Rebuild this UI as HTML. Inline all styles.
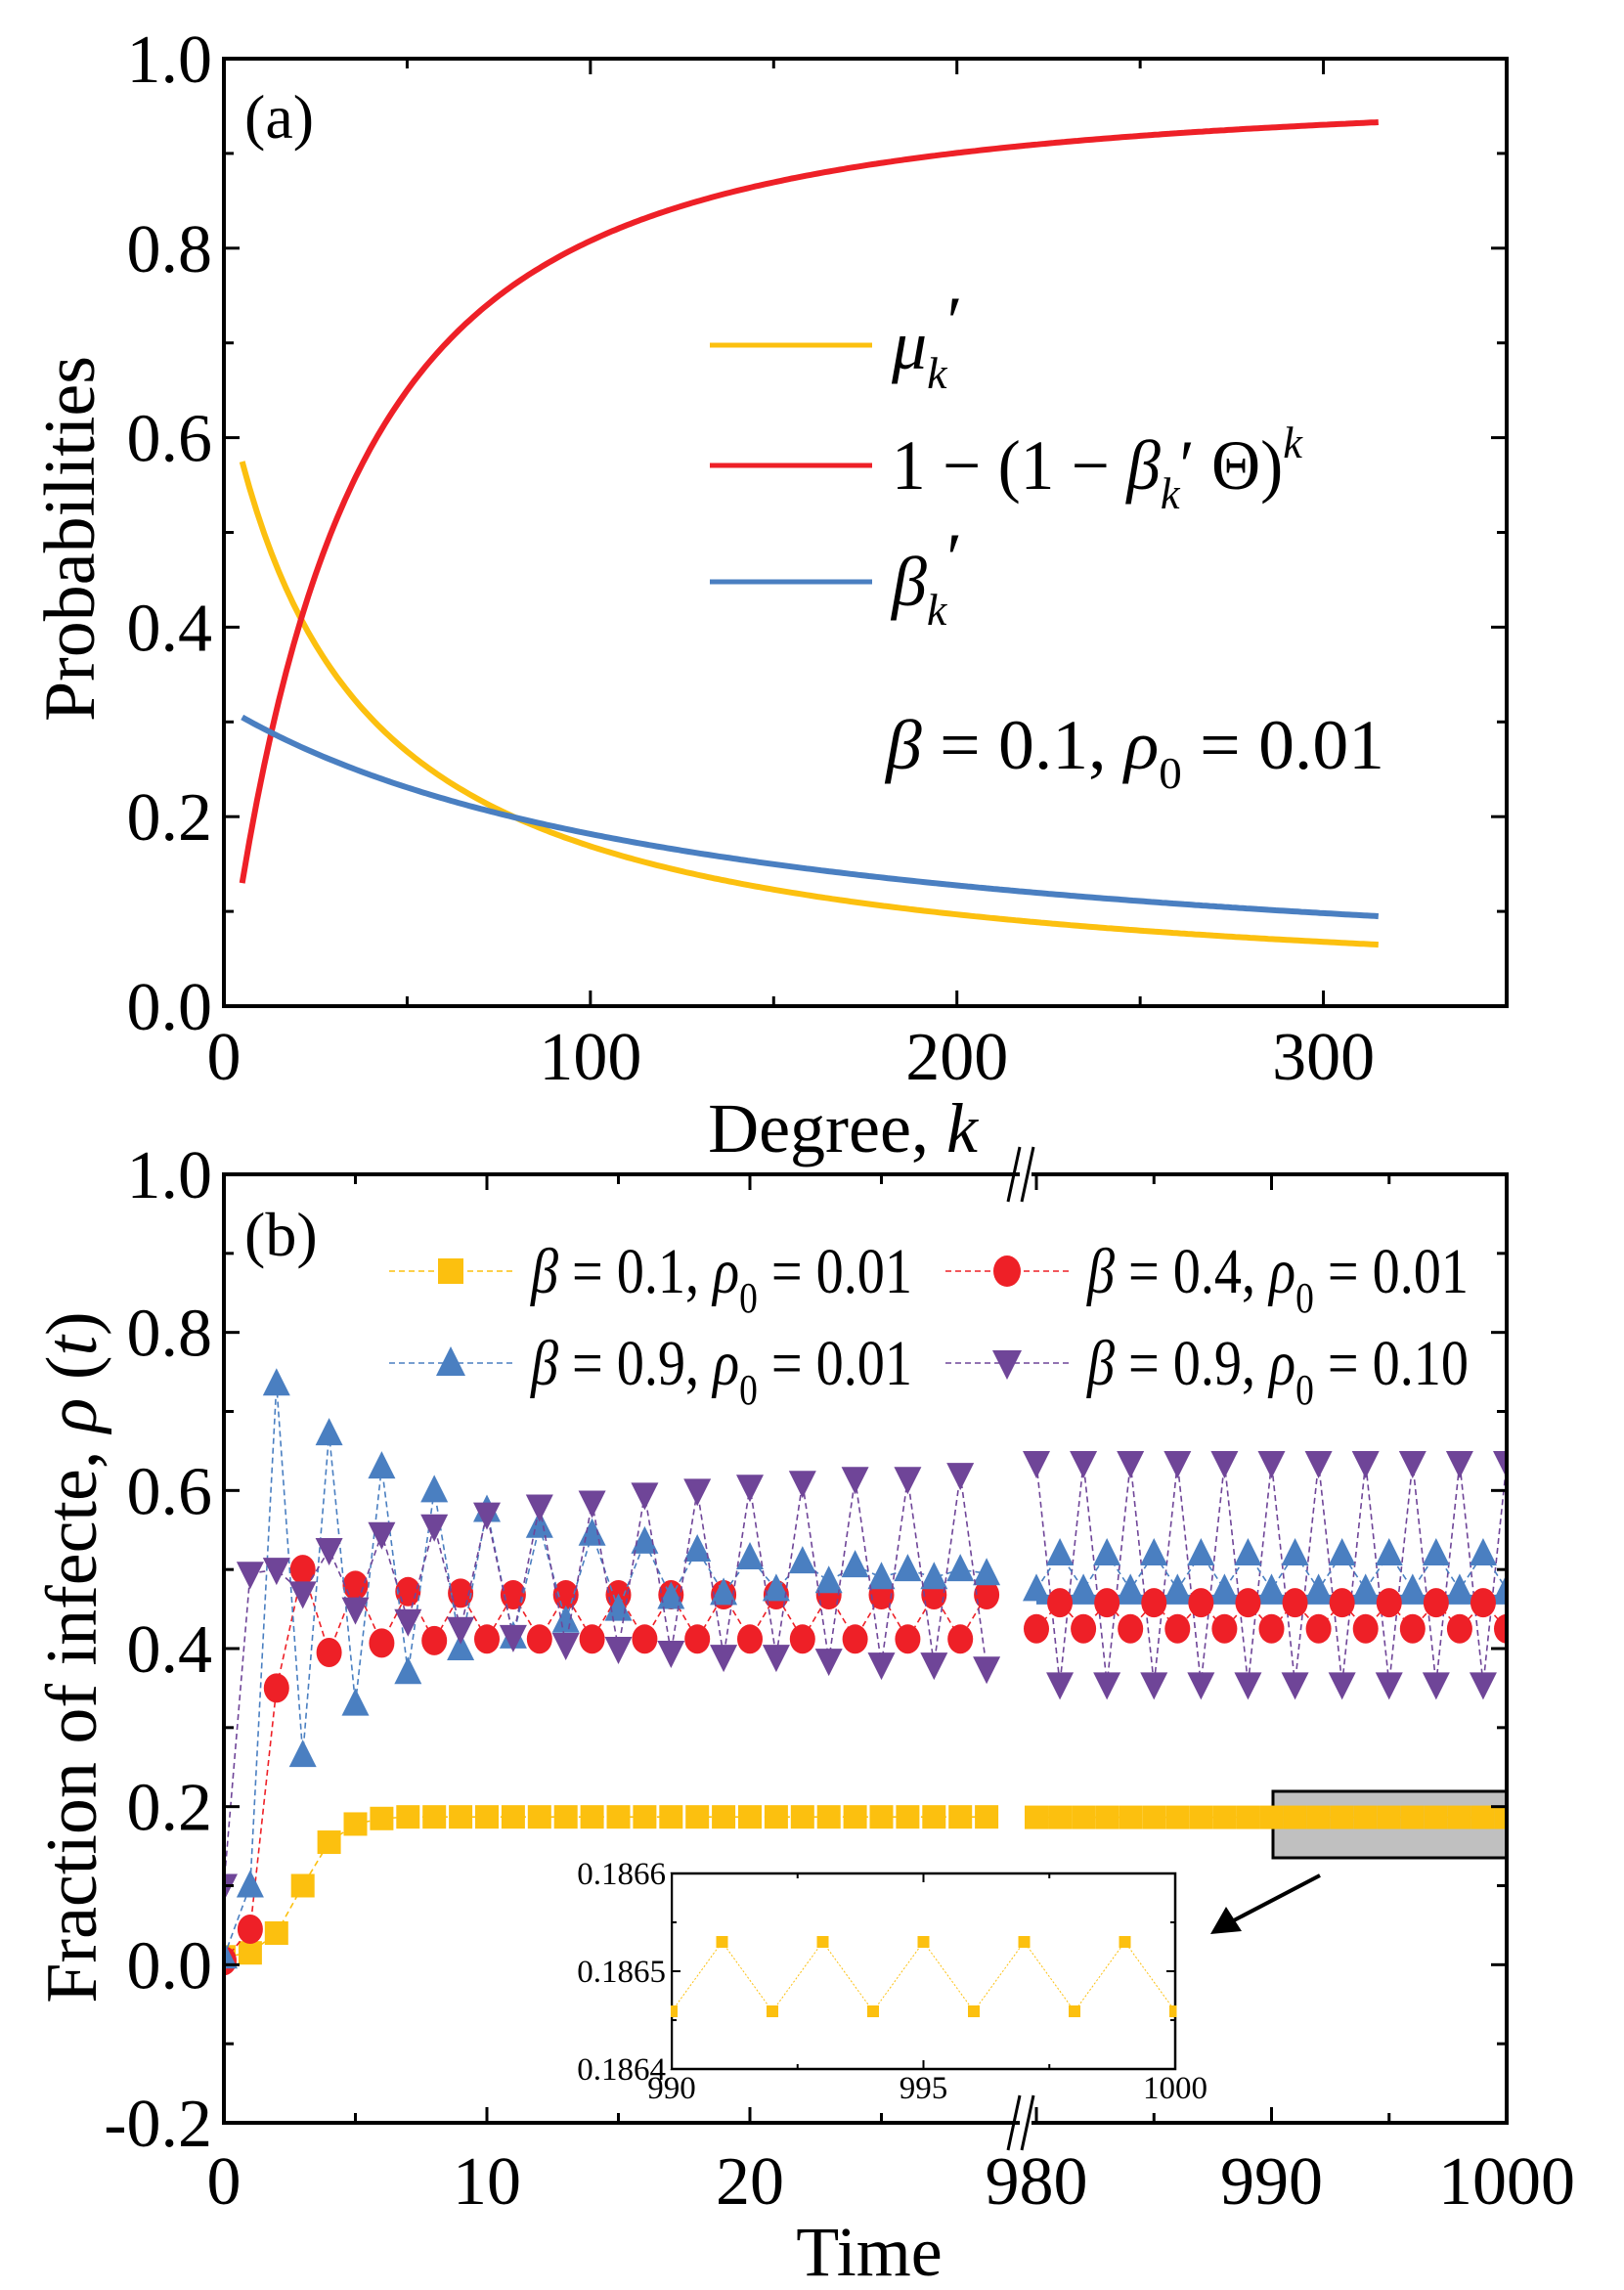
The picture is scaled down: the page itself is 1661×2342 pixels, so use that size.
<!DOCTYPE html>
<html><head><meta charset="utf-8"><style>
html,body{margin:0;padding:0;background:#fff;}
svg{display:block;}
text{font-family:"Liberation Serif",serif;fill:#000;}
</style></head><body>
<svg id="s" width="1661" height="2342" viewBox="0 0 1661 2342" xmlns="http://www.w3.org/2000/svg"></svg>
<script>
var s=document.getElementById('s');var h='';
var Y='#fcc00f',R='#ee2027',B='#4a7fc1',P='#6f4598';
// ---- Plot A ----
var L=229,Rt=1541,T=60,Bo=1029;
function ax(k){return L+k*(Rt-L)/350;}
function ay(v){return Bo-v*(Bo-T);}
function path(f,c){var d='';for(var k=5;k<=315;k+=1){d+=(k==5?'M':'L')+ax(k).toFixed(1)+','+ay(f(k)).toFixed(1);}h+='<path d="'+d+'" fill="none" stroke="'+c+'" stroke-width="6"/>';}
function mu(k){return 22.7/(k+34.5);}
function be(k){return 42.7/(k+135);}
function rd(k){return 1-Math.pow(1-be(k)*0.09,k);}
path(mu,Y);path(rd,R);path(be,B);
h+='<rect x="'+L+'" y="'+T+'" width="'+(Rt-L)+'" height="'+(Bo-T)+'" fill="none" stroke="#000" stroke-width="4"/>';
for(var k=0;k<=350;k+=50){var x=ax(k),len=(k%100==0)?16:10;h+='<line x1="'+x+'" y1="'+Bo+'" x2="'+x+'" y2="'+(Bo-len)+'" stroke="#000" stroke-width="3"/><line x1="'+x+'" y1="'+T+'" x2="'+x+'" y2="'+(T+len)+'" stroke="#000" stroke-width="3"/>';}
for(var i=0;i<=10;i++){var v=i/10,y=ay(v),len=(i%2==0)?16:10;h+='<line x1="'+L+'" y1="'+y+'" x2="'+(L+len)+'" y2="'+y+'" stroke="#000" stroke-width="3"/><line x1="'+Rt+'" y1="'+y+'" x2="'+(Rt-len)+'" y2="'+y+'" stroke="#000" stroke-width="3"/>';
 if(i%2==0)h+='<text x="'+(L-12)+'" y="'+(y+24)+'" font-size="70" text-anchor="end">'+v.toFixed(1)+'</text>';}
[0,100,200,300].forEach(function(k){h+='<text x="'+ax(k)+'" y="'+1104+'" font-size="70" text-anchor="middle">'+k+'</text>';});
h+='<text x="250" y="141" font-size="64">(a)</text>';
h+='<text transform="translate(96,551) rotate(-90)" font-size="74" text-anchor="middle">Probabilities</text>';
h+='<text x="862" y="1178" font-size="72" text-anchor="middle">Degree, <tspan font-style="italic">k</tspan></text>';
// legend a
h+='<line x1="726" y1="353" x2="892" y2="353" stroke="'+Y+'" stroke-width="5"/>';
h+='<line x1="726" y1="476" x2="892" y2="476" stroke="'+R+'" stroke-width="5"/>';
h+='<line x1="726" y1="595" x2="892" y2="595" stroke="'+B+'" stroke-width="5"/>';
h+='<text x="912" y="377" font-size="72" font-style="italic">μ<tspan font-size="46" dy="20">k</tspan><tspan dy="-44" font-style="normal">′</tspan></text>';
h+='<text x="912" y="500" font-size="72" textLength="420" lengthAdjust="spacingAndGlyphs">1 − (1 − <tspan font-style="italic">β</tspan><tspan font-size="46" font-style="italic" dy="20">k</tspan><tspan dy="-20">′ Θ)</tspan><tspan font-size="46" font-style="italic" dy="-32">k</tspan></text>';
h+='<text x="912" y="619" font-size="72" font-style="italic">β<tspan font-size="46" dy="20">k</tspan><tspan dy="-44" font-style="normal">′</tspan></text>';
h+='<text x="906" y="786" font-size="72" textLength="510" lengthAdjust="spacingAndGlyphs"><tspan font-style="italic">β</tspan> = 0.1, <tspan font-style="italic">ρ</tspan><tspan font-size="46" dy="20">0</tspan><tspan dy="-20"> = 0.01</tspan></text>';
// ---- Plot B ----
var bT=1201,bB=2171,bL=229,bR=1541;
function by(v){return bB-(v+0.2)*(bB-bT)/1.2;}
function bx(t){return t<100? bL+t*26.9 : 1060+(t-980)*24.05;}
var yel=[0.01,0.015,0.04,0.1,0.155,0.178,0.185];for(var t=7;t<30;t++)yel.push(0.187);
var red=[0.005,0.045,0.35,0.5,0.395,0.48,0.407,0.472,0.41,0.47];for(var t=10;t<30;t++){red.push(t%2==0?0.412:0.468);}
var blu=[0.01,0.1,0.735,0.265,0.672,0.33,0.63,0.37,0.6,0.4,0.575,0.415,0.555,0.435,0.545,0.45,0.535,0.465,0.525,0.47,0.515,0.475,0.51,0.485,0.505,0.49,0.5,0.49,0.5,0.495];
var pur=[0.1,0.495,0.5,0.47,0.525,0.45,0.545,0.435,0.555,0.425,0.57,0.415,0.58,0.405,0.585,0.4,0.595,0.395,0.6,0.39,0.605,0.39,0.61,0.385,0.615,0.38,0.615,0.38,0.62,0.375];
function right(a,b){var r=[];for(var t=980;t<=1000;t++)r.push(t%2==0?a:b);return r;}
var yR=right(0.1865,0.1865),rR=right(0.425,0.458),bR2=right(0.475,0.52),pR=right(0.635,0.355);
function line(arr,t0,c){var d='';arr.forEach(function(v,i){d+=(i?'L':'M')+bx(t0+i).toFixed(1)+','+by(v).toFixed(1);});h+='<path d="'+d+'" fill="none" stroke="'+c+'" stroke-width="1.6" stroke-dasharray="6,4"/>';}
function mk(type,x,y,c,sz){sz=sz||14;
 if(type=='s')h+='<rect x="'+(x-sz+2)+'" y="'+(y-sz+2)+'" width="'+(2*sz-4)+'" height="'+(2*sz-4)+'" fill="'+c+'"/>';
 else if(type=='c')h+='<ellipse cx="'+x+'" cy="'+y+'" rx="'+(sz-1)+'" ry="'+(sz+1)+'" fill="'+c+'"/>';
 else if(type=='u')h+='<polygon points="'+x+','+(y-sz-2)+' '+(x-sz)+','+(y+sz-2)+' '+(x+sz)+','+(y+sz-2)+'" fill="'+c+'"/>';
 else h+='<polygon points="'+x+','+(y+sz+2)+' '+(x-sz)+','+(y-sz+2)+' '+(x+sz)+','+(y-sz+2)+'" fill="'+c+'"/>';}
function series(arr,t0,c,type){line(arr,t0,c);arr.forEach(function(v,i){mk(type,bx(t0+i),by(v),c);});}
h+='<defs><clipPath id="cp"><rect x="'+bL+'" y="'+bT+'" width="'+(bR-bL)+'" height="'+(bB-bT)+'"/></clipPath></defs><g clip-path="url(#cp)">';
series(yel,0,Y,'s');series(red,0,R,'c');series(blu,0,B,'u');series(pur,0,P,'d');
h+='<line x1="1060" y1="'+by(0.462)+'" x2="1541" y2="'+by(0.462)+'" stroke="'+B+'" stroke-width="10"/>';
series(pR,980,P,'d');series(bR2,980,B,'u');series(rR,980,R,'c');
h+='<rect x="1302" y="1832" width="246" height="68" fill="#c0c0c0" stroke="#000" stroke-width="3"/>';
series(yR,980,Y,'s');
h+='</g>';
h+='<rect x="'+bL+'" y="'+bT+'" width="'+(bR-bL)+'" height="'+(bB-bT)+'" fill="none" stroke="#000" stroke-width="4"/>';
h+='<rect x="1043" y="'+(bT-4)+'" width="12" height="8" fill="#fff"/><rect x="1043" y="'+(bB-4)+'" width="12" height="8" fill="#fff"/>';
h+='<line x1="1031" y1="'+(bT+28)+'" x2="1043" y2="'+(bT-28)+'" stroke="#000" stroke-width="3"/><line x1="1045" y1="'+(bT+28)+'" x2="1057" y2="'+(bT-28)+'" stroke="#000" stroke-width="3"/>';
h+='<line x1="1031" y1="'+(bB+28)+'" x2="1043" y2="'+(bB-28)+'" stroke="#000" stroke-width="3"/><line x1="1045" y1="'+(bB+28)+'" x2="1057" y2="'+(bB-28)+'" stroke="#000" stroke-width="3"/>';
[0,5,10,15,20,25,980,985,990,995,1000].forEach(function(t){var x=bx(t),len=(t%10==0)?16:10;h+='<line x1="'+x+'" y1="'+bB+'" x2="'+x+'" y2="'+(bB-len)+'" stroke="#000" stroke-width="3"/><line x1="'+x+'" y1="'+bT+'" x2="'+x+'" y2="'+(bT+len)+'" stroke="#000" stroke-width="3"/>';});
for(var i=-2;i<=10;i++){var v=i/10,y=by(v),len=(i%2==0)?16:10;h+='<line x1="'+bL+'" y1="'+y+'" x2="'+(bL+len)+'" y2="'+y+'" stroke="#000" stroke-width="3"/><line x1="'+bR+'" y1="'+y+'" x2="'+(bR-len)+'" y2="'+y+'" stroke="#000" stroke-width="3"/>';
 if(i%2==0)h+='<text x="'+(bL-12)+'" y="'+(y+24)+'" font-size="70" text-anchor="end">'+v.toFixed(1)+'</text>';}
[[0,'0'],[10,'10'],[20,'20'],[980,'980'],[990,'990'],[1000,'1000']].forEach(function(a){h+='<text x="'+bx(a[0])+'" y="2254" font-size="70" text-anchor="middle">'+a[1]+'</text>';});
h+='<text x="250" y="1284" font-size="64">(b)</text>';
h+='<text x="889" y="2327" font-size="72" text-anchor="middle">Time</text>';
h+='<text transform="translate(98,1695) rotate(-90)" font-size="74" text-anchor="middle">Fraction of infecte,  <tspan font-style="italic">ρ</tspan> (<tspan font-style="italic">t</tspan>)</text>';
function leg(x,y,c,type,lab){h+='<line x1="'+x+'" y1="'+y+'" x2="'+(x+130)+'" y2="'+y+'" stroke="'+c+'" stroke-width="1.6" stroke-dasharray="6,4"/>';mk(type,x+63,y,c,15);
 h+='<text x="'+(x+145)+'" y="'+(y+22)+'" font-size="66" textLength="390" lengthAdjust="spacingAndGlyphs"><tspan font-style="italic">β</tspan> = '+lab[0]+', <tspan font-style="italic">ρ</tspan><tspan font-size="44" dy="20">0</tspan><tspan dy="-20"> = '+lab[1]+'</tspan></text>';}
leg(398,1300,Y,'s',['0.1','0.01']);leg(967,1300,R,'c',['0.4','0.01']);
leg(398,1394,B,'u',['0.9','0.01']);leg(967,1394,P,'d',['0.9','0.10']);
// inset
var iL=687,iR=1202,iT=1916,iB=2116;
h+='<rect x="'+iL+'" y="'+iT+'" width="'+(iR-iL)+'" height="'+(iB-iT)+'" fill="#fff" stroke="#000" stroke-width="2.5"/>';
function ix(t){return iL+(t-990)*(iR-iL)/10;}function iy(v){return iB-(v-0.1864)/0.0002*(iB-iT);}
var d='';for(var t=990;t<=1000;t++){var v=(t%2==0)?0.186459:0.18653;d+=(t==990?'M':'L')+ix(t)+','+iy(v);}
h+='<path d="'+d+'" fill="none" stroke="'+Y+'" stroke-width="1" stroke-dasharray="2,2"/>';
for(var t=990;t<=1000;t++){var v=(t%2==0)?0.186459:0.18653;h+='<rect x="'+(ix(t)-6)+'" y="'+(iy(v)-6)+'" width="12" height="12" fill="'+Y+'"/>';}
h+='<rect x="'+(iL-8)+'" y="'+iT+'" width="7" height="'+(iB-iT)+'" fill="#fff"/><rect x="'+(iR+1.5)+'" y="'+iT+'" width="7" height="'+(iB-iT)+'" fill="#fff"/>';
[990,992.5,995,997.5,1000].forEach(function(t){var len=(t%5==0)?9:5;h+='<line x1="'+ix(t)+'" y1="'+iB+'" x2="'+ix(t)+'" y2="'+(iB-len)+'" stroke="#000" stroke-width="2"/><line x1="'+ix(t)+'" y1="'+iT+'" x2="'+ix(t)+'" y2="'+(iT+len)+'" stroke="#000" stroke-width="2"/>';});
[0.1864,0.18645,0.1865,0.18655,0.1866].forEach(function(v,i){var len=(i%2==0)?9:5;h+='<line x1="'+iL+'" y1="'+iy(v)+'" x2="'+(iL+len)+'" y2="'+iy(v)+'" stroke="#000" stroke-width="2"/><line x1="'+iR+'" y1="'+iy(v)+'" x2="'+(iR-len)+'" y2="'+iy(v)+'" stroke="#000" stroke-width="2"/>';
 if(i%2==0)h+='<text x="'+(iL-6)+'" y="'+(iy(v)+11)+'" font-size="33" text-anchor="end">'+v.toFixed(4)+'</text>';});
h+='<text x="'+ix(990)+'" y="2146" font-size="33" text-anchor="middle">990</text><text x="'+ix(995)+'" y="2146" font-size="33" text-anchor="middle">995</text><text x="'+ix(1000)+'" y="2146" font-size="33" text-anchor="middle">1000</text>';
h+='<line x1="1350" y1="1918" x2="1262" y2="1964" stroke="#000" stroke-width="4"/><polygon points="1238,1978 1254,1950 1270,1975" fill="#000"/>';
s.innerHTML=h;
</script>
</body></html>
